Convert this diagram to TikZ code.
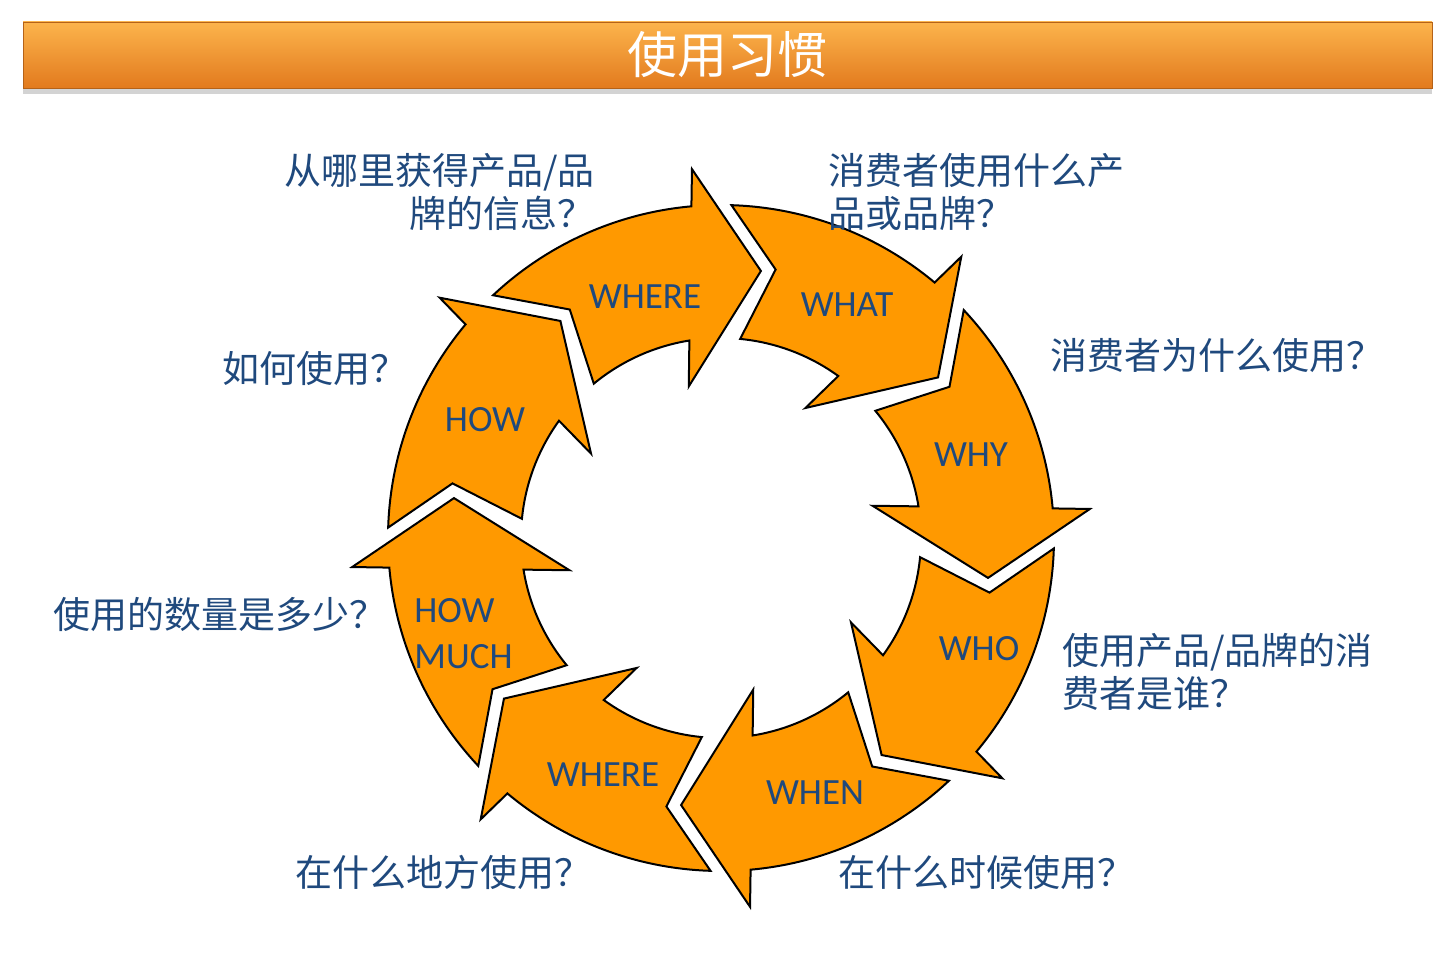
\documentclass[tikz,border=0pt]{standalone}
\usepackage{fontspec}
\setmainfont{Carlito}
\newfontfamily\cjk{Noto Sans CJK SC}
\usetikzlibrary{shadows}
\definecolor{qblue}{RGB}{31,73,125}
\definecolor{ringorange}{RGB}{255,153,0}
\definecolor{bartop}{RGB}{252,180,76}
\definecolor{barmid}{RGB}{247,148,46}
\definecolor{barbot}{RGB}{226,122,30}

\begin{document}
\begin{tikzpicture}[x=0.5pt,y=0.5pt,
    piece/.style={draw=black,line width=1pt,fill=ringorange,line join=miter},
    tag/.style={text=qblue,font=\fontsize{18.5}{23}\selectfont,inner sep=0pt},
    ask/.style={text=qblue,font=\cjk\fontsize{18.5}{21.5}\selectfont,inner sep=0pt},
    titlebar/.style={rectangle,minimum width=704.5pt,minimum height=33pt,
      top color=bartop,middle color=barmid,bottom color=barbot,draw=barbot!80!black,
      line width=0.4pt,drop shadow={shadow xshift=0pt,shadow yshift=-3pt,opacity=0.35},
      text=white,font=\cjk\fontsize{25}{28}\selectfont}]
\useasboundingbox (0,0) rectangle (1444,960);
\node[titlebar] (bar) at (727.5,905) {使用习惯};

% the eight arrows of the ring
\foreach \t in {81.5,36.5,-8.5,-53.5,-98.5,-143.5,-188.5,-233.5}
  \draw[piece,shift={(721,422)}] (\t:270) -- (\t+13:370) -- (\t+13.6:333)
    arc[start angle=\t+13.6,end angle=\t+51.7,radius=333] -- (\t+42:274) -- (\t+48:200)
    arc[start angle=\t+48,end angle=\t+17.6,radius=200] -- (\t+20.5:155) -- cycle;

\node[tag] (where1) at (645,663) {WHERE};
\node[tag] (what) at (847,655) {WHAT};
\node[tag] (why) at (971,505) {WHY};
\node[tag] (who) at (979,311) {WHO};
\node[tag] (when) at (815,167) {WHEN};
\node[tag] (where2) at (603,185) {WHERE};
\node[tag,anchor=west,align=left] (howmuch) at (414,326) {HOW\\MUCH};
\node[tag] (how) at (485,540) {HOW};

% questions
\node[ask,anchor=east,align=right] (qwhere1) at (595,768) {从哪里获得产品/品\\牌的信息？};
\node[ask,anchor=west,align=left] (qwhat) at (828,768) {消费者使用什么产\\品或品牌？};
\node[ask,anchor=west] (qwhy) at (1050,605) {消费者为什么使用？};
\node[ask,anchor=west,align=left] (qwho) at (1062,288) {使用产品/品牌的消\\费者是谁？};
\node[ask,anchor=west] (qwhen) at (838,88) {在什么时候使用？};
\node[ask,anchor=west] (qwhere2) at (295,88) {在什么地方使用？};
\node[ask,anchor=west] (qmuch) at (53,346) {使用的数量是多少？};
\node[ask,anchor=west] (qhow) at (222,592) {如何使用？};
\end{tikzpicture}
\end{document}
